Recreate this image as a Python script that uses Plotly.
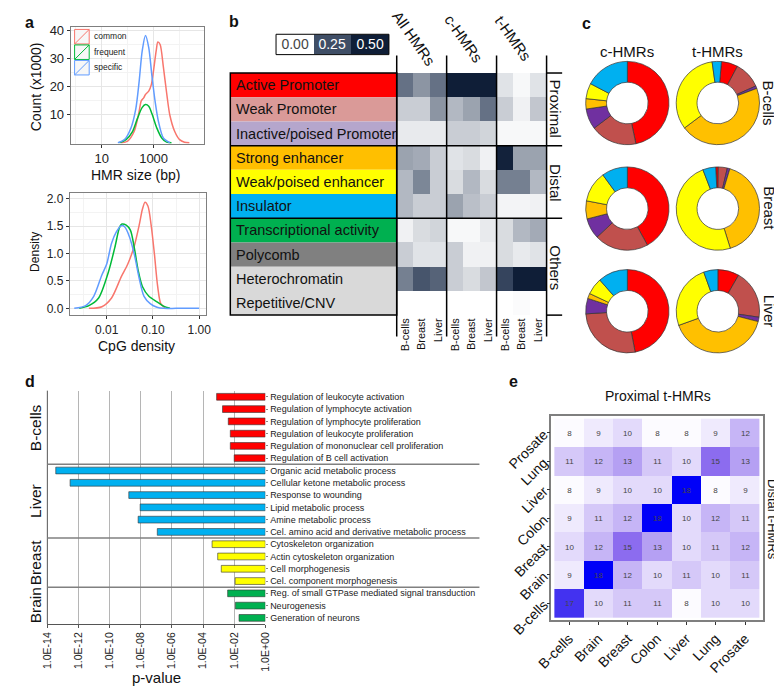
import plotly.graph_objects as go
import numpy as np

W, H = 782, 697
FONT = "Liberation Sans, Arial, sans-serif"

def px(x):
    return x / W

def py(y):
    return 1 - y / H

# ---------------- data: panel a ----------------
size_common_log = [1.75, 2.0, 2.25, 2.4375, 2.525, 2.625, 2.6875, 2.8125, 2.9125, 3.0, 3.1, 3.1625,
                   3.25, 3.375, 3.5, 3.625, 3.8125, 4.0, 4.1875, 4.375]
size_common_cnt = [0, 0.6, 4, 10.9, 14.9, 16.1, 17.2, 18.4, 20.7, 25.9, 32.8, 35.9,
                   35, 27, 17.8, 9.8, 4, 1.1, 0.2, 0]
size_frequent_log = [1.6875, 1.9375, 2.1875, 2.375, 2.5625, 2.6875, 2.8125, 2.9375, 3.125, 3.3125, 3.5, 3.6875]
size_frequent_cnt = [0, 1.1, 4, 8.6, 12.6, 13.6, 13, 10.3, 5.2, 1.7, 0.2, 0]
size_specific_log = [1.625, 1.875, 2.125, 2.3125, 2.4375, 2.5625, 2.6875, 2.8125, 2.9375, 3.0625,
                     3.1875, 3.375, 3.625]
size_specific_cnt = [0, 1.1, 5.2, 12, 21.3, 32.8, 38.2, 33.9, 23.6, 14.4, 7.5, 1.7, 0]

cpg_common_log = [-2.386, -2.105, -1.895, -1.684, -1.544, -1.404, -1.298, -1.228, -1.172, -1.109,
                  -1.039, -0.968, -0.898, -0.828, -0.737]
cpg_common_den = [0, 0.03, 0.19, 0.58, 0.81, 1.14, 1.52, 1.81, 1.94, 1.87, 1.52, 0.99, 0.40, 0.08, 0.01]
cpg_frequent_log = [-2.596, -2.386, -2.175, -1.965, -1.825, -1.719, -1.670, -1.579, -1.488, -1.404,
                    -1.319, -1.228, -1.088, -0.912, -0.772, -0.632]
cpg_frequent_den = [0, 0.05, 0.19, 0.66, 1.11, 1.49, 1.54, 1.52, 1.43, 1.11, 0.69, 0.40, 0.22, 0.12, 0.04, 0]
cpg_specific_log = [-2.702, -2.456, -2.281, -2.105, -2.0, -1.895, -1.789, -1.684, -1.614, -1.509,
                    -1.404, -1.298, -1.193, -1.053, -0.912, -0.772, -0.5, -0.2, 0.0]
cpg_specific_den = [0, 0.05, 0.22, 0.61, 0.81, 1.19, 1.40, 1.51, 1.49, 1.31, 0.99, 0.55, 0.22, 0.08,
                    0.02, 0, 0, 0, 0]

series_names = ["common", "frequent", "specific"]
series_colors = ["#f8766d", "#00ba38", "#619cff"]

# ---------------- data: panel b ----------------
states = ["Active Promoter", "Weak Promoter", "Inactive/poised Promoter", "Strong enhancer",
          "Weak/poised enhancer", "Insulator", "Transcriptional activity", "Polycomb",
          "Heterochromatin", "Repetitive/CNV"]
state_colors = ["#ff0000", "#da9a98", "#b5a6cc", "#ffbf00", "#ffff00", "#00b0f0", "#00b050",
                "#808080", "#d9d9d9", "#d9d9d9"]
b_groups = ["All HMRs", "c-HMRs", "t-HMRs"]
b_tissues = ["B-cells", "Breast", "Liver"]
b_fraction = [
    [0.20, 0.15, 0.20, 0.52, 0.52, 0.52, 0.04, 0.01, 0.04],
    [0.07, 0.07, 0.15, 0.10, 0.13, 0.20, 0.07, 0.02, 0.08],
    [0.03, 0.03, 0.03, 0.07, 0.07, 0.06, 0.01, 0.01, 0.01],
    [0.13, 0.12, 0.07, 0.04, 0.05, 0.02, 0.48, 0.13, 0.13],
    [0.10, 0.17, 0.07, 0.05, 0.10, 0.05, 0.18, 0.18, 0.10],
    [0.10, 0.07, 0.07, 0.13, 0.09, 0.07, 0.015, 0.015, 0.02],
    [0.02, 0.05, 0.06, 0.01, 0.01, 0.03, 0.05, 0.10, 0.12],
    [0.07, 0.04, 0.04, 0.07, 0.02, 0.02, 0.05, 0.03, 0.04],
    [0.18, 0.24, 0.22, 0.07, 0.05, 0.08, 0.30, 0.50, 0.50],
    [0.0, 0.0, 0.0, 0.0, 0.0, 0.0, 0.0, 0.005, 0.0],
]
b_legend_vals = [0.0, 0.25, 0.50]
b_section_names = ["Proximal", "Distal", "Others"]

# ---------------- data: panel c ----------------
donut_colors = ["#ff0000", "#c0504d", "#7030a0", "#ffc000", "#ffff00", "#00b0f0"]
c_bcells = [46.7, 18, 8, 4, 6, 17.3]
c_breast = [42, 21, 8, 7, 12, 10]
c_liver = [47, 27, 6, 2, 6.5, 11.5]
t_bcells = [6.4, 10.5, 1, 45.5, 33, 3.6]
t_breast = [1, 3.5, 1, 40.5, 49, 5]
t_liver = [8.3, 19, 1.7, 40.5, 25, 5.5]
donut_rows = ["B-cells", "Breast", "Liver"]
donut_cols = ["c-HMRs", "t-HMRs"]

# ---------------- data: panel d ----------------
go_terms = ["Regulation of leukocyte activation", "Regulation of lymphocyte activation",
            "Regulation of lymphocyte proliferation", "Regulation of leukocyte proliferation",
            "Regulation of mononuclear cell proliferation", "Regulation of B cell activation",
            "Organic acid metabolic process", "Cellular ketone metabolic process",
            "Response to wounding", "Lipid metabolic process", "Amine metabolic process",
            "Cel. amino acid and derivative metabolic process",
            "Cytoskeleton organization", "Actin cytoskeleton organization", "Cell morphogenesis",
            "Cel. component morphogenesis",
            "Reg. of small GTPase mediated signal transduction", "Neurogenesis", "Generation of neurons"]
go_log10_p = [-3.13, -2.75, -2.38, -2.25, -2.25, -2.0,
              -13.46, -12.54, -8.77, -8.04, -8.17, -6.94,
              -3.42, -3.06, -2.83, -1.94,
              -2.42, -1.92, -1.69]
go_group = ["B-cells"] * 6 + ["Liver"] * 6 + ["Breast"] * 4 + ["Brain"] * 3
group_colors = {"B-cells": "#ff0000", "Liver": "#00b0f0", "Breast": "#ffff00", "Brain": "#00b050"}
d_ticks = [-14, -12, -10, -8, -6, -4, -2, 0]
d_ticktext = ["1.0E-14", "1.0E-12", "1.0E-10", "1.0E-08", "1.0E-06", "1.0E-04", "1.0E-02", "1.0E+00"]

# ---------------- data: panel e ----------------
tissues_e = ["B-cells", "Brain", "Breast", "Colon", "Liver", "Lung", "Prosate"]
overlap = [  # rows: distal (B-cells bottom -> Prosate top), cols: proximal
    [17, 10, 11, 11, 8, 10, 10],
    [9, 18, 12, 10, 11, 10, 11],
    [10, 12, 15, 13, 10, 11, 12],
    [9, 11, 12, 18, 10, 12, 11],
    [8, 9, 10, 10, 18, 8, 9],
    [11, 12, 13, 11, 10, 15, 13],
    [8, 9, 10, 8, 8, 9, 12],
]

fig = go.Figure()

# ---- panel a traces ----
for name, xs, ys, col in zip(series_names,
                             [size_common_log, size_frequent_log, size_specific_log],
                             [size_common_cnt, size_frequent_cnt, size_specific_cnt], series_colors):
    fig.add_trace(go.Scatter(x=xs, y=ys, mode="lines", name=name, showlegend=False,
                             line=dict(color=col, width=1.5, shape="spline", smoothing=0.8),
                             xaxis="x", yaxis="y"))
for name, xs, ys, col in zip(series_names,
                             [cpg_common_log, cpg_frequent_log, cpg_specific_log],
                             [cpg_common_den, cpg_frequent_den, cpg_specific_den], series_colors):
    fig.add_trace(go.Scatter(x=xs, y=ys, mode="lines", name=name, showlegend=False,
                             line=dict(color=col, width=1.5, shape="spline", smoothing=0.8),
                             xaxis="x2", yaxis="y2"))

# ---- panel b ----
fig.add_trace(go.Bar(x=[1] * len(states), y=list(range(len(states))), orientation="h", width=1,
                     marker=dict(color=state_colors, line=dict(width=0)), showlegend=False,
                     xaxis="x3", yaxis="y3", hoverinfo="skip"))
b_scale = [[0, "#ffffff"], [0.5, "#3f4e66"], [1, "#0f1e37"]]
fig.add_trace(go.Heatmap(z=b_fraction, x=list(range(9)), y=list(range(len(states))),
                         zmin=0, zmax=0.5, colorscale=b_scale, showscale=False,
                         xaxis="x4", yaxis="y4"))
fig.add_trace(go.Heatmap(z=[b_legend_vals], x=[0, 1, 2], y=[0], zmin=0, zmax=0.5,
                         colorscale=b_scale, showscale=False, texttemplate="%{z:.2f}",
                         textfont=dict(size=14, family=FONT), xaxis="x7", yaxis="y7"))

# ---- panel c ----
donut_data = [[c_bcells, t_bcells], [c_breast, t_breast], [c_liver, t_liver]]
donut_rot = [[0, 5], [0, -3], [0, 0]]
col_cx = [620, 713]
row_cy = [94, 203, 309]
R = 43
for i in range(3):
    for j in range(2):
        cx, cy = col_cx[j], row_cy[i]
        fig.add_trace(go.Pie(values=donut_data[i][j], labels=states[:6], hole=0.5, sort=False,
                             direction="clockwise", rotation=donut_rot[i][j], textinfo="none",
                             marker=dict(colors=donut_colors, line=dict(color="#333333", width=0.7)),
                             domain=dict(x=[px(cx - R), px(cx + R)], y=[py(cy + R), py(cy - R)]),
                             showlegend=False, hoverinfo="label+percent"))

# ---- panel d ----
fig.add_trace(go.Bar(x=go_log10_p, y=list(range(len(go_terms))), orientation="h", width=0.55,
                     marker=dict(color=[group_colors[g] for g in go_group],
                                 line=dict(color="#333333", width=0.6)),
                     showlegend=False, xaxis="x5", yaxis="y5"))

# ---- panel e ----
e_scale = [[0.0, "#fcfbff"], [0.1, "#efeafd"], [0.2, "#e3dafb"], [0.3, "#d5c8f8"], [0.4, "#c6b5f6"],
           [0.5, "#b5a0f3"], [0.7, "#8c6cef"], [0.9, "#4332f0"], [1.0, "#0000f8"]]
fig.add_trace(go.Heatmap(z=overlap, x=list(range(7)), y=list(range(7)), zmin=8, zmax=18,
                         colorscale=e_scale, showscale=False, texttemplate="%{z}",
                         textfont=dict(size=8, color="#444444", family=FONT),
                         xaxis="x6", yaxis="y6"))

# ---------------- axes ----------------
tickf = dict(size=13, color="#222222", family=FONT)
ggframe = dict(showline=True, mirror=True, linecolor="#7f7f7f", linewidth=1, zeroline=False,
               ticks="outside", ticklen=3, tickcolor="#333333", showgrid=True, gridcolor="#e6e6e6")
layout = dict(
    width=W, height=H, margin=dict(l=0, r=0, t=0, b=0), paper_bgcolor="white",
    plot_bgcolor="white", font=dict(family=FONT, color="#111111"), showlegend=False,
    xaxis=dict(domain=[px(48), px(185)], range=[-0.19, 4.94], tickvals=[1, 3], ticktext=["10", "1000"],
               minor=dict(tickvals=[0, 2, 4], showgrid=True, gridcolor="#f3f3f3", ticks=""),
               tickfont=tickf, anchor="y", **ggframe),
    yaxis=dict(domain=[py(136), py(15)], range=[-0.34, 41.4], tickvals=[10, 20, 30, 40],
               minor=dict(tickvals=[5, 15, 25, 35], showgrid=True, gridcolor="#f3f3f3", ticks=""),
               tickfont=tickf, anchor="x", **ggframe),
    xaxis2=dict(domain=[px(47), px(187)], range=[-2.8, 0.147], tickvals=[-2, -1, 0],
                ticktext=["0.01", "0.10", "1.00"],
                minor=dict(tickvals=[-2.5, -1.5, -0.5], showgrid=True, gridcolor="#f3f3f3", ticks=""),
                tickfont=dict(size=12, color="#222222", family=FONT), anchor="y2", **ggframe),
    yaxis2=dict(domain=[py(313), py(187)], range=[-0.124, 2.106], tickvals=[0, 0.5, 1, 1.5, 2],
                ticktext=["0.0", "0.5", "1.0", "1.5", "2.0"],
                minor=dict(tickvals=[0.25, 0.75, 1.25, 1.75], showgrid=True, gridcolor="#f3f3f3", ticks=""),
                tickfont=dict(size=12, color="#222222", family=FONT), anchor="x2", **ggframe),
    xaxis3=dict(domain=[px(212), px(383)], range=[0, 1], visible=False, anchor="y3"),
    yaxis3=dict(domain=[py(313), py(63)], range=[9.5, -0.5], visible=False, anchor="x3"),
    xaxis4=dict(domain=[px(383), px(537)], range=[-0.5, 8.5], tickvals=list(range(9)),
                ticktext=b_tissues * 3, tickangle=-90, ticks="", showgrid=False, zeroline=False,
                tickfont=dict(size=11, color="#111111", family=FONT), anchor="y4"),
    yaxis4=dict(domain=[py(313), py(63)], range=[9.5, -0.5], visible=False, anchor="x4"),
    xaxis7=dict(domain=[px(259), px(375)], range=[-0.5, 2.5], visible=False, anchor="y7"),
    yaxis7=dict(domain=[py(44), py(23)], range=[-0.5, 0.5], visible=False, anchor="x7"),
    xaxis5=dict(domain=[px(24), px(248)], range=[-14, 0], tickvals=d_ticks, ticktext=d_ticktext,
                tickangle=-90, showgrid=True, gridcolor="#b5b5b5", zeroline=False, showline=True,
                linecolor="#555555", ticks="outside", ticklen=3, tickcolor="#555555",
                tickfont=dict(size=10.5, color="#222222", family=FONT), anchor="y5"),
    yaxis5=dict(domain=[py(632), py(391)], range=[18.5, -0.5], side="right", tickvals=list(range(19)),
                ticktext=go_terms, ticks="outside", ticklen=2, tickcolor="#888888", showgrid=False,
                zeroline=False, showline=False, tickfont=dict(size=9, color="#222222", family=FONT),
                anchor="x5"),
    xaxis6=dict(domain=[px(542), px(759)], range=[-0.6, 6.6], tickvals=list(range(7)), ticktext=tissues_e,
                tickangle=-45, showline=True, mirror=True, linecolor="#7f7f7f", linewidth=1.5,
                ticks="outside", ticklen=3, tickcolor="#333333", showgrid=False, zeroline=False,
                tickfont=dict(size=14, color="#111111", family=FONT), anchor="y6"),
    yaxis6=dict(domain=[py(628), py(417)], range=[-0.6, 6.6], tickvals=list(range(7)), ticktext=tissues_e,
                tickangle=-45, showline=True, mirror=True, linecolor="#7f7f7f", linewidth=1.5,
                ticks="outside", ticklen=3, tickcolor="#333333", showgrid=False, zeroline=False,
                tickfont=dict(size=14, color="#111111", family=FONT), anchor="x6"),
)
fig.update_layout(**layout)

# ---------------- annotations ----------------
ann = []

def A(text, x, y, size=14, angle=0, bold=False, xanchor="center", color="#111111", xref="paper",
      yref="paper"):
    t = "<b>%s</b>" % text if bold else text
    ann.append(dict(text=t, x=x if xref != "paper" else px(x), y=y if yref != "paper" else py(y),
                    xref=xref, yref=yref, showarrow=False, textangle=angle, xanchor=xanchor,
                    yanchor="middle", font=dict(size=size, color=color, family=FONT)))

# panel letters
A("a", 6, 11, 16, bold=True)
A("b", 216, 10, 16, bold=True)
A("c", 578, 12, 16, bold=True)
A("d", 6, 382, 16, bold=True)
A("e", 503, 382, 16, bold=True)

# panel a
A("Count (x1000)", 12, 77, 14, angle=-90)
A("HMR size (bp)", 115, 168, 14)
A("Density", 11, 248, 12, angle=-90)
A("CpG density", 116, 345, 14)
for k, (nm, col) in enumerate(zip(series_names, series_colors)):
    A(nm, 70, 25 + 16 * k, 8.5, xanchor="left", color="#222222")

# panel b
for i, s in enumerate(states):
    A(s, 0.022, i, 14.5, xanchor="left", xref="x3", yref="y3")
for g, cx in zip(b_groups, [401, 452, 503]):
    A(g, cx, 27, 15, angle=55)
for s, cy in zip(b_section_names, [100, 177, 264]):
    A(s, 546, cy, 15, angle=90)

# panel c
for nm, cx in zip(donut_cols, col_cx):
    A(nm, cx, 41, 15)
for nm, cy in zip(donut_rows, row_cy):
    A(nm, 766, cy, 15, angle=90)

# panel d
for g, yc in zip(["B-cells", "Liver", "Breast", "Brain"], [2.5, 8.5, 13.5, 17]):
    A(g, 12, yc, 15.5, angle=-90, yref="y5")
A("p-value", 136, 687, 15)

# panel e
A("Proximal t-HMRs", 651, 397, 14)
A("Distal t-HMRs", 769, 524, 13, angle=90)

fig.update_layout(annotations=ann)

# ---------------- shapes ----------------
shp = []

def L(x0, y0, x1, y1, color="black", width=1.5, xref="paper", yref="paper"):
    shp.append(dict(type="line", x0=x0 if xref != "paper" else px(x0),
                    x1=x1 if xref != "paper" else px(x1),
                    y0=y0 if yref != "paper" else py(y0), y1=y1 if yref != "paper" else py(y1),
                    xref=xref, yref=yref, line=dict(color=color, width=width)))

# a legend keys
for k, col in enumerate(series_colors):
    y0 = 18 + 16 * k
    shp.append(dict(type="rect", x0=px(52), x1=px(67), y0=py(y0 + 15), y1=py(y0), xref="paper",
                    yref="paper", line=dict(color=col, width=1), fillcolor="#f7f7f7"))
    L(52, y0 + 15, 67, y0, color=col, width=1)

# b frames and separators
shp.append(dict(type="rect", x0=px(212), x1=px(383), y0=py(313), y1=py(63), xref="paper", yref="paper",
                line=dict(color="black", width=1.5)))
for yy in [138, 213]:
    L(212, yy, 553, yy)
for yy in [63, 313]:
    L(537, yy, 553, yy)
for xx in [383, 434.3, 485.6, 537]:
    L(xx, 45, xx, 335)
shp.append(dict(type="rect", x0=px(259), x1=px(375), y0=py(44), y1=py(23), xref="paper", yref="paper",
                line=dict(color="black", width=1)))

# d axes and group separators
L(24, 391, 24, 632, color="#555555", width=1)
for yb in [5.5, 11.5, 15.5]:
    L(24, yb, 468, yb, color="#808080", width=1.5, yref="y5")

fig.update_layout(shapes=shp)

fig.write_html("out.html")
